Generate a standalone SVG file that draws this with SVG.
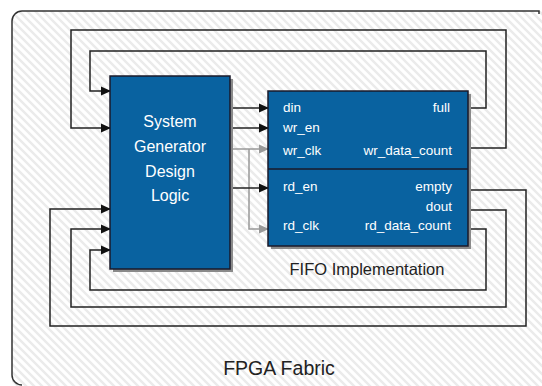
<svg xmlns="http://www.w3.org/2000/svg" width="542" height="386" viewBox="0 0 542 386">
<style>
.wire{fill:none;stroke:#222;stroke-width:1.5}
.gwire{fill:none;stroke:#999;stroke-width:1.5}
.blk{fill:#0962a0;stroke:#1a1a2a;stroke-width:1.5}
.shd{fill:#8a8a8a}
.t{font-family:"Liberation Sans",Arial,sans-serif;fill:#fff}
.port{font-size:13.5px}
.lbl{font-family:"Liberation Sans",Arial,sans-serif;fill:#222}
</style>
<defs>
<pattern id="hatch" patternUnits="userSpaceOnUse" width="8" height="8">
<path d="M-2,-2 L10,10 M-2,6 L2,10 M6,-2 L10,2" stroke="#ebebeb" stroke-width="2.5"/>
</pattern>
<marker id="ah" markerWidth="10" markerHeight="10" refX="9" refY="5" orient="auto" markerUnits="userSpaceOnUse">
<path d="M0,0.5 L10,5 L0,9.5 Z" fill="#111"/>
</marker>
<marker id="gah" markerWidth="10" markerHeight="10" refX="9" refY="5" orient="auto" markerUnits="userSpaceOnUse">
<path d="M0,0.5 L10,5 L0,9.5 Z" fill="#999"/>
</marker>
</defs>
<rect width="542" height="386" fill="#fff"/>
<g id="fpga-fabric">
<path d="M12,21 A10,10 0 0 1 22,11 H542 V386 H12 Z" fill="url(#hatch)"/>
<path d="M539,14 V11 H22 A10,10 0 0 0 12,21 V375 A10,10 0 0 0 22,385" fill="none" stroke="#333" stroke-width="1.5"/>
<text class="lbl" x="279" y="375" font-size="19.5" text-anchor="middle">FPGA Fabric</text>
</g>
<g id="connectors">
<path class="wire" d="M230,108 H268" marker-end="url(#ah)"/>
<path class="wire" d="M230,128 H268" marker-end="url(#ah)"/>
<path class="gwire" d="M230,149 H268" marker-end="url(#gah)"/>
<path class="gwire" d="M249,149 V229 H268" marker-end="url(#gah)"/>
<path class="wire" d="M230,188 H268" marker-end="url(#ah)"/>
<path class="wire" d="M468,108 H486 V51 H90 V91 H110" marker-end="url(#ah)"/>
<path class="wire" d="M468,148 H506 V30 H71 V128 H110" marker-end="url(#ah)"/>
<path class="wire" d="M468,190 H526 V326 H50 V209 H110" marker-end="url(#ah)"/>
<path class="wire" d="M468,210 H506 V307 H71 V229 H110" marker-end="url(#ah)"/>
<path class="wire" d="M468,229 H486 V290 H90 V250 H110" marker-end="url(#ah)"/>
</g>
<g id="sysgen">
<rect class="shd" x="113" y="79" width="120" height="193"/>
<rect class="blk" x="110" y="76" width="120" height="193"/>
<text class="t" font-size="16" text-anchor="middle" x="170" y="127">System</text>
<text class="t" font-size="16" text-anchor="middle" x="170" y="152">Generator</text>
<text class="t" font-size="16" text-anchor="middle" x="170" y="177">Design</text>
<text class="t" font-size="16" text-anchor="middle" x="170" y="201">Logic</text>
</g>
<g id="fifo">
<rect class="shd" x="271" y="94" width="200" height="155"/>
<rect class="blk" x="268" y="91" width="200" height="155"/>
<line x1="268" y1="169" x2="468" y2="169" stroke="#1a1a2a" stroke-width="1.5"/>
<text class="t port" x="283" y="112">din</text>
<text class="t port" x="283" y="132">wr_en</text>
<text class="t port" x="283" y="155">wr_clk</text>
<text class="t port" x="283" y="191">rd_en</text>
<text class="t port" x="283" y="230">rd_clk</text>
<text class="t port" x="450" y="112" text-anchor="end">full</text>
<text class="t port" x="452" y="155" text-anchor="end">wr_data_count</text>
<text class="t port" x="452" y="191" text-anchor="end">empty</text>
<text class="t port" x="452" y="211" text-anchor="end">dout</text>
<text class="t port" x="451" y="230" text-anchor="end">rd_data_count</text>
<text class="lbl" x="367" y="275" font-size="16.5" text-anchor="middle">FIFO Implementation</text>
</g>
</svg>
